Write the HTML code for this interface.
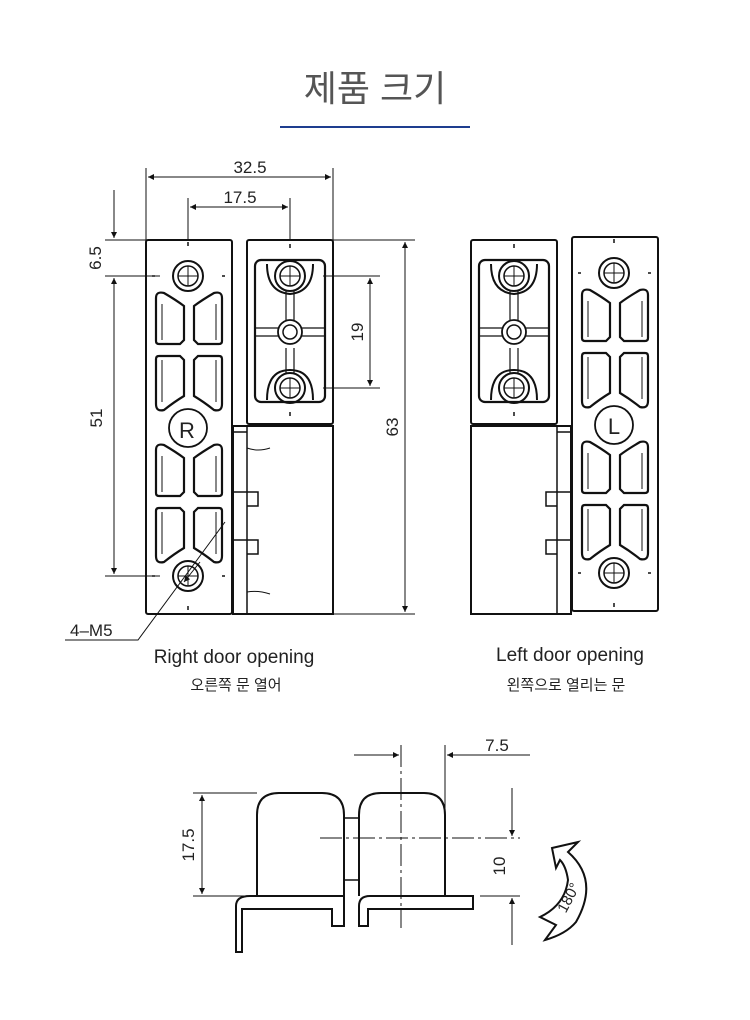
<!DOCTYPE html>
<html><head><meta charset="utf-8"><style>
html,body{margin:0;padding:0;background:#fff;}
svg{display:block}
text{font-family:"Liberation Sans","Noto Sans CJK KR",sans-serif;fill:#222}
</style></head><body>
<svg width="750" height="1020" viewBox="0 0 750 1020" xmlns="http://www.w3.org/2000/svg">
<defs>
<marker id="a" viewBox="0 0 10 10" refX="10" refY="5" markerWidth="10" markerHeight="6" orient="auto-start-reverse" markerUnits="userSpaceOnUse"><path d="M0,0 L10,5 L0,10z" fill="#111"/></marker>
<g id="hole"><circle r="15" fill="none" stroke="#111" stroke-width="2"/><circle r="10" fill="none" stroke="#111" stroke-width="1.5"/><path d="M-10,0H10M0,-10V10" stroke="#111" stroke-width="1"/></g>
<g id="pk" fill="none" stroke="#111" stroke-width="2.2">
<path d="M10,58 Q10,51 18,53 Q30,60 38,66 V100 L34,104 H13 Q10,104 10,101 Z"/>
<path d="M76,58 Q76,51 68,53 Q56,60 48,66 V100 L52,104 H73 Q76,104 76,101 Z"/>
<path d="M13,116 H34 L38,120 V156 Q28,162 18,170 Q10,172 10,164 V119 Q10,116 13,116Z"/>
<path d="M73,116 H52 L48,120 V156 Q58,162 68,170 Q76,172 76,164 V119 Q76,116 73,116Z"/>
<path d="M16,64V100M70,64V100M16,120V162M70,120V162" stroke-width="1"/>
</g>
<g id="lp" fill="none" stroke="#111">
<rect x="0" y="0" width="86" height="374" rx="2" stroke-width="2"/>
<use href="#pk"/><use href="#pk" y="152"/>
<use href="#hole" x="42" y="36"/><use href="#hole" x="42" y="336"/>
<circle cx="42" cy="188" r="19" fill="#fff" stroke-width="1.8"/>
<path d="M42,2v4M42,366v4M6,36h3M76,36h3M6,336h3M76,336h3" stroke-width="1.5"/>
</g>
<g id="sb" fill="none" stroke="#111">
<rect x="0" y="0" width="86" height="184" rx="2" stroke-width="2"/>
<rect x="8" y="20" width="70" height="142" rx="6" stroke-width="2.2"/>
<path d="M8,88H78M8,96H78M39,50V80M47,50V80M39,108V134M47,108V134" stroke-width="1.2"/>
<path d="M20,24 Q20,52 43,54 Q66,52 66,24" stroke-width="2"/>
<path d="M20,160 Q20,130 43,130 Q66,130 66,160" stroke-width="2"/>
<circle cx="43" cy="92" r="12" fill="#fff" stroke-width="1.8"/><circle cx="43" cy="92" r="7" stroke-width="1.5"/>
<use href="#hole" x="43" y="36"/><use href="#hole" x="43" y="148"/>
<path d="M43,4v4M43,172v4" stroke-width="1.5"/>
</g>
</defs>

<text x="375" y="101" font-size="36" text-anchor="middle" style="fill:#555">제품 크기</text>
<rect x="280" y="126" width="190" height="2" fill="#1e3d8f"/>

<use href="#lp" x="146" y="240"/>
<use href="#sb" x="247" y="240"/>
<g fill="none" stroke="#111" stroke-width="2">
<rect x="233" y="426" width="100" height="188"/>
<path d="M233,432H247M247,426V614M233,492H258V506H247M233,540H258V554H247" stroke-width="1.5"/>
<path d="M247,448 Q258,452 270,448M247,592Q258,590 270,594" stroke-width="1"/>
</g>
<text x="187" y="438" font-size="22" text-anchor="middle">R</text>
<g stroke="#111" stroke-width="1" fill="none">
<path d="M146,168V240M333,168V240M188,198V240M290,198V240"/>
<path d="M148,177H331" marker-start="url(#a)" marker-end="url(#a)"/>
<path d="M190,207H288" marker-start="url(#a)" marker-end="url(#a)"/>
<path d="M105,240H146M333,240H415M333,614H415M105,276H160M105,576H160M323,276H380M323,388H380"/>
<path d="M405,242V612" marker-start="url(#a)" marker-end="url(#a)"/>
<path d="M370,278V386" marker-start="url(#a)" marker-end="url(#a)"/>
<path d="M114,190V238" marker-end="url(#a)"/>
<path d="M114,278V574" marker-start="url(#a)" marker-end="url(#a)"/>
<path d="M65,640H138L225,522"/>
<path d="M184,582L200,562" marker-start="url(#a)"/>
</g>
<text x="250" y="173" font-size="17" text-anchor="middle">32.5</text>
<text x="240" y="203" font-size="17" text-anchor="middle">17.5</text>
<text transform="translate(101,258) rotate(-90)" font-size="17" text-anchor="middle">6.5</text>
<text transform="translate(102,418) rotate(-90)" font-size="17" text-anchor="middle">51</text>
<text transform="translate(363,332) rotate(-90)" font-size="17" text-anchor="middle">19</text>
<text transform="translate(398,427) rotate(-90)" font-size="17" text-anchor="middle">63</text>
<text x="70" y="636" font-size="17">4–M5</text>
<text x="234" y="663" font-size="19" text-anchor="middle">Right door opening</text>
<text x="236" y="690" font-size="15" text-anchor="middle">오른쪽 문 열어</text>

<use href="#sb" x="471" y="240"/>
<use href="#lp" x="572" y="237"/>
<g fill="none" stroke="#111" stroke-width="2">
<rect x="471" y="426" width="100" height="188"/>
<path d="M557,432H571M557,426V614M571,492H546V506H557M571,540H546V554H557" stroke-width="1.5"/>
</g>
<text x="614" y="434" font-size="22" text-anchor="middle">L</text>
<text x="570" y="661" font-size="19" text-anchor="middle">Left door opening</text>
<text x="566" y="690" font-size="15" text-anchor="middle">왼쪽으로 열리는 문</text>

<g fill="none" stroke="#111" stroke-width="2">
<path d="M257,896V815Q257,793 279,793H322Q344,793 344,815V896"/>
<path d="M359,896V815Q359,793 381,793H424Q445,793 445,815V896"/>
<path d="M344,818H359M344,880H359" stroke-width="1.5"/>
<path d="M344,896H250Q236,896 236,906V952H242V909H332V926H344Z" />
<path d="M359,926H368V909H473V896H370Q359,896 359,906Z"/>
</g>
<g stroke="#111" stroke-width="1" fill="none">
<path d="M401,745V928" stroke-dasharray="22,4,3,4"/>
<path d="M320,838H520" stroke-dasharray="22,4,3,4"/>
<path d="M193,793H257M193,896H257M480,896H520M445,745V815"/>
<path d="M202,795V894" marker-start="url(#a)" marker-end="url(#a)"/>
<path d="M354,755H399" marker-end="url(#a)"/>
<path d="M530,755H447" marker-end="url(#a)"/>
<path d="M512,788V836" marker-end="url(#a)"/>
<path d="M512,945V898" marker-end="url(#a)"/>
</g>
<text transform="translate(194,845) rotate(-90)" font-size="17" text-anchor="middle">17.5</text>
<text transform="translate(505,866) rotate(-90)" font-size="17" text-anchor="middle">10</text>
<text x="497" y="751" font-size="17" text-anchor="middle">7.5</text>
<path d="M552,848L578,842L568,852Q600,880 576,922Q566,934 545,940L556,925L540,917Q565,905 568,880Q566,866 560,860L556,868Z" fill="#fff" stroke="#111" stroke-width="2"/>
<text transform="translate(573,900) rotate(-62)" font-size="15" text-anchor="middle">180°</text>
</svg>
</body></html>
